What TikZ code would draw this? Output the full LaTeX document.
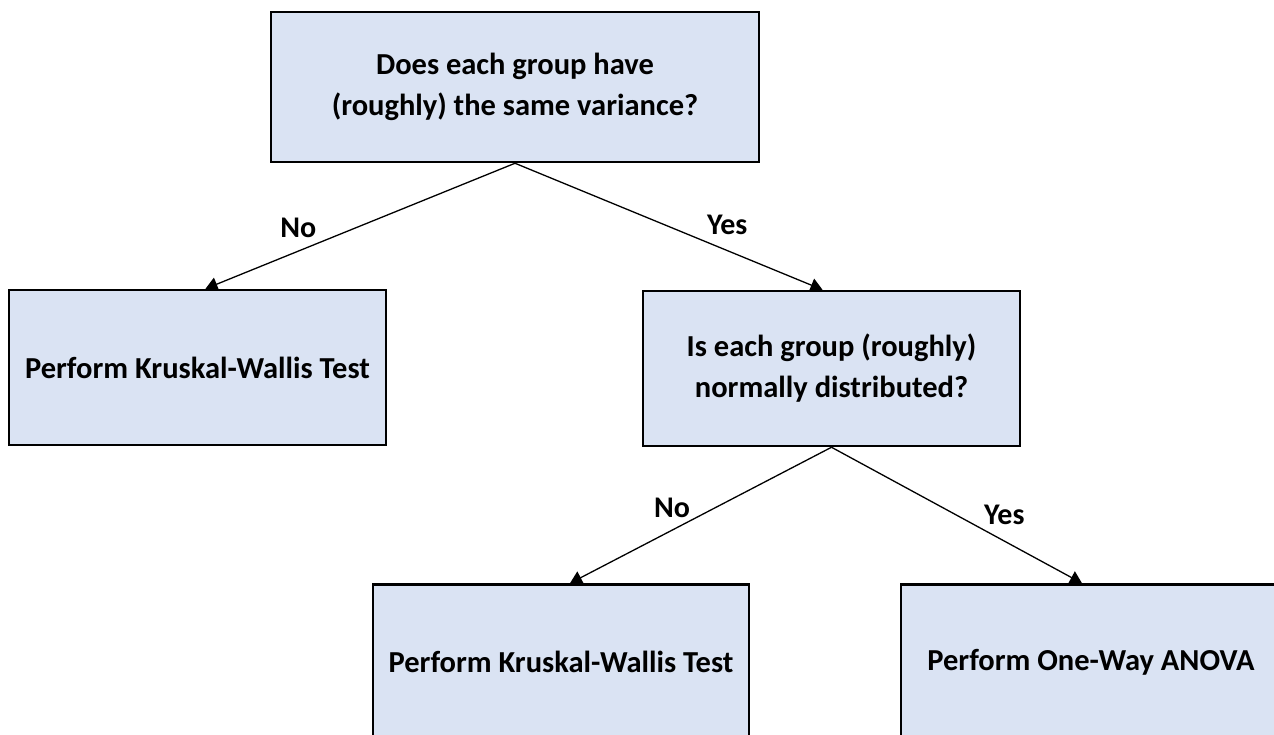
\documentclass[tikz,border=0pt]{standalone}
\usepackage{fontspec}
\setmainfont{Carlito}
\usetikzlibrary{arrows.meta}
\definecolor{boxblue}{HTML}{DAE3F3}
\begin{document}
\begin{tikzpicture}[x=1pt,y=-1pt,
  box/.style={draw=black,line width=2.5pt,fill=boxblue,align=center,
    minimum height=155pt,inner sep=0pt,
    font=\fontsize{30.5}{41}\selectfont\bfseries},
  link/.style={line width=1.3pt,-{Triangle[length=12pt,width=14pt]}},
  lab/.style={font=\fontsize{30}{34}\selectfont\bfseries}]
\clip (0,0) rectangle (1274,735);
% boxes
\node[box,minimum width=488pt,minimum height=150pt] (var) at (515,87)
  {Does each group have\\(roughly) the same variance?};
\node[box,minimum width=377pt] (kw1) at (197.5,367.5) {Perform Kruskal-Wallis Test};
\node[box,minimum width=377pt] (norm) at (831.5,368.5)
  {Is each group (roughly)\\normally distributed?};
\node[box,minimum width=376pt] (kw2) at (561,662) {Perform Kruskal-Wallis Test};
\node[box,minimum width=380pt] (anova) at (1091,662) {Perform One-Way ANOVA};
% arrows with labels
\draw[link] (var.south) -- ([xshift=8pt]kw1.north)
  node[lab,pos=0.7,yshift=23pt] (no1) {No};
\draw[link] (var.south) -- ([xshift=-9pt]norm.north)
  node[lab,pos=0.69,yshift=26pt] (yes1) {Yes};
\draw[link] (norm.south) -- ([xshift=9pt]kw2.north)
  node[lab,pos=0.61,yshift=22pt] (no2) {No};
\draw[link] (norm.south) -- ([xshift=-9pt]anova.north)
  node[lab,pos=0.69,yshift=26pt] (yes2) {Yes};
\end{tikzpicture}
\end{document}
